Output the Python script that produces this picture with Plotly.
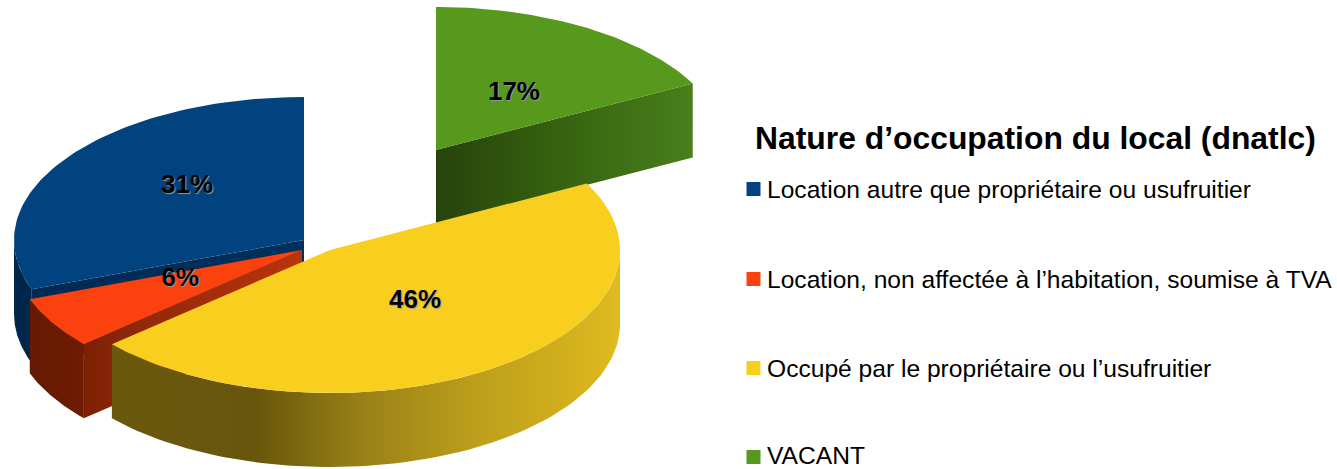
import numpy as np
import plotly.graph_objects as go

# Data
categories = ["Location autre que propriétaire ou usufruitier",
              "Location, non affectée à l’habitation, soumise à TVA",
              "Occupé par le propriétaire ou l’usufruitier",
              "VACANT"]
shares = [30.6, 5.85, 46.25, 17.3]
chart_title = "Nature d’occupation du local (dnatlc)"

# Style
colors = ["#00437f", "#fb420e", "#f8ce1f", "#56991c"]
centers = [(304, 240), (302, 250), (330, 250), (436, 150)]
label_shift = [(2, -13), (3, -7), (3, -7), (3, 5)]
RX, RY, H = 290, 143, 74
legend_y = [189, 279, 368, 455]

# clockwise from 12 o'clock: VACANT, Occupé, Location TVA, Location autre
order = [3, 2, 1, 0]
ang = {}
a = 0.0
for i in order:
    ang[i] = (a, a + shares[i] * 3.6)
    a += shares[i] * 3.6


def pts(i, t0, t1, dy=0, n=80):
    cx, cy = centers[i]
    t = np.radians(np.linspace(t0, t1, n))
    return cx + RX * np.sin(t), cy + dy - RY * np.cos(t)


def poly(x, y, color=None, scale=None):
    kw = dict(x=list(x) + [x[0]], y=list(y) + [y[0]], mode="lines", fill="toself",
              line=dict(width=0), hoverinfo="skip", showlegend=False)
    if scale:
        kw["fillgradient"] = dict(type="horizontal", colorscale=scale)
    else:
        kw["fillcolor"] = color
    return go.Scatter(**kw)


def top(i):
    x, y = pts(i, *ang[i])
    c = centers[i]
    return poly(np.r_[c[0], x], np.r_[c[1], y], color=colors[i])


def outer(i, t0, t1, scale):
    x, y = pts(i, t0, t1)
    xb, yb = pts(i, t0, t1, dy=H)
    return poly(np.r_[x, xb[::-1]], np.r_[y, yb[::-1]], scale=scale)


def cut(i, t, scale):
    cx, cy = centers[i]
    x, y = pts(i, t, t, n=1)
    return poly([cx, x[0], x[0], cx], [cy, y[0], y[0] + H, cy + H], scale=scale)


fig = go.Figure()

# VACANT
fig.add_trace(cut(3, ang[3][1], [[0, "#27430b"], [0.45, "#35600f"], [1, "#4a7f1c"]]))
fig.add_trace(top(3))
# Location autre
fig.add_trace(outer(0, ang[0][0], 270, [[0, "#00264c"], [1, "#00264c"]]))
fig.add_trace(cut(0, ang[0][0], [[0, "#002a54"], [1, "#00305c"]]))
fig.add_trace(top(0))
# Location TVA
fig.add_trace(outer(1, ang[1][0], ang[1][1], [[0, "#661a02"], [1, "#6e1c02"]]))
fig.add_trace(cut(1, ang[1][0], [[0, "#7d2004"], [0.3, "#93290a"], [1, "#bb340a"]]))
fig.add_trace(top(1))
# Occupé
fig.add_trace(outer(2, 90, ang[2][1], [[0, "#6a590d"], [0.28, "#67560c"], [0.5, "#9a8217"],
                                       [0.72, "#bd9f1b"], [0.93, "#d6b21e"], [1, "#e0bb20"]]))
fig.add_trace(top(2))

# Percent labels
for i in range(4):
    mid = np.radians(sum(ang[i]) / 2)
    cx, cy = centers[i]
    fig.add_trace(go.Scatter(
        x=[cx + 0.5 * RX * np.sin(mid) + label_shift[i][0]],
        y=[cy - 0.5 * RY * np.cos(mid) + label_shift[i][1]],
        mode="text", text=[f"{round(shares[i])}%"], hoverinfo="skip", showlegend=False,
        textposition="middle center",
        textfont=dict(family="Liberation Sans", size=26, color="#000000",
                      weight="bold", shadow="1px 1px 1px #9a9a9a")))

# Legend block
fig.add_trace(go.Scatter(x=[753.5] * 4, y=[189, 279, 368, 457], mode="markers",
                         marker=dict(symbol="square", size=14, color=colors, line=dict(width=0)),
                         hoverinfo="skip", showlegend=False))
for name, y in zip(categories, legend_y):
    fig.add_annotation(x=768, y=y, text=name, showarrow=False, xanchor="left", yanchor="middle",
                       xshift=-2, borderpad=0,
                       font=dict(family="Liberation Sans", size=24.6, color="#000000"))
fig.add_annotation(x=1035, y=138, text=f"<b>{chart_title}</b>", showarrow=False, xanchor="center",
                   yanchor="middle", font=dict(family="Liberation Sans", size=31.85, color="#000000"))

fig.update_layout(width=1337, height=469, margin=dict(l=0, r=0, t=0, b=0),
                  paper_bgcolor="#ffffff", plot_bgcolor="#ffffff",
                  xaxis=dict(range=[0, 1337], visible=False, fixedrange=True),
                  yaxis=dict(range=[469, 0], visible=False, fixedrange=True),
                  showlegend=False)
fig.write_html("out.html", config={"displayModeBar": False},
               post_script="document.body.style.margin='0';document.body.style.overflow='hidden';")
